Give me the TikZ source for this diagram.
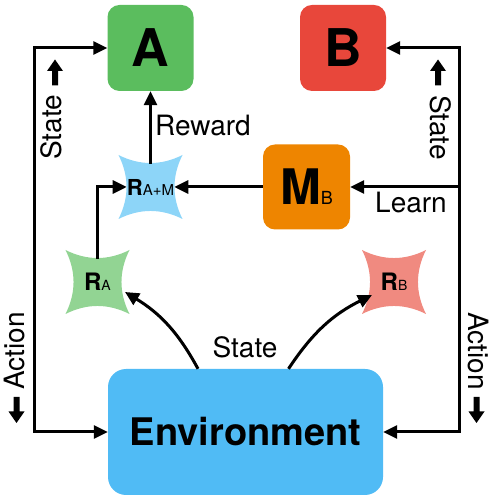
\documentclass[tikz,border=0pt]{standalone}
\usepackage{fontspec}
\setmainfont{TeX Gyre Heros}
\usetikzlibrary{arrows.meta,calc}
\definecolor{agreen}{HTML}{5BBD5E}
\definecolor{bred}{HTML}{E8473B}
\definecolor{morange}{HTML}{EE8500}
\definecolor{envblue}{HTML}{50BBF5}
\definecolor{ramblue}{HTML}{8DD5F8}
\definecolor{ragreen}{HTML}{92D493}
\definecolor{rbsalmon}{HTML}{F08A80}
\tikzset{
  rbox/.style={rounded corners=12pt, minimum width=86pt, minimum height=86pt, inner sep=0pt},
  conn/.style={line width=3pt, -{Triangle[length=14pt,width=13pt]}},
  conntwo/.style={line width=3pt, {Triangle[length=14pt,width=13pt]}-{Triangle[length=14pt,width=13pt]}},
  lbl/.style={font=\fontsize{28}{28}\selectfont, inner sep=0pt},
  starnode/.style={inner sep=0pt, minimum width=46pt, minimum height=46pt, font=\bfseries\fontsize{22}{22}\selectfont},
  starfill/.pic={\fill[#1] (-32,-32) .. controls (-10.7,-21.3) and (10.7,-21.3) .. (32,-32)
     .. controls (21.3,-10.7) and (21.3,10.7) .. (32,32)
     .. controls (10.7,21.3) and (-10.7,21.3) .. (-32,32)
     .. controls (-21.3,10.7) and (-21.3,-10.7) .. cycle;},
  barrow/.pic={\fill (-13,-3) -- (1.5,-3) -- (1.5,-8) -- (13,0) -- (1.5,8) -- (1.5,3) -- (-13,3) -- cycle;}
}
\begin{document}
\begin{tikzpicture}[x=1pt,y=1pt]
\useasboundingbox (0,0) rectangle (494,500);
% boxes
\node[rbox, fill=agreen, font=\bfseries\fontsize{52}{52}\selectfont] (A) at (150.5,452) {A};
\node[rbox, fill=bred, font=\bfseries\fontsize{52}{52}\selectfont] (B) at (343,452) {B};
\node[rbox, fill=morange, minimum width=87pt, minimum height=85pt, font=\bfseries\fontsize{49}{49}\selectfont] (MB) at (306.5,313) {M{\mdseries\fontsize{18}{18}\selectfont B}};
\node[rounded corners=18pt, fill=envblue, minimum width=275pt, minimum height=126pt, inner sep=0pt, font=\bfseries\fontsize{38}{38}\selectfont] (Env) at (245.5,68) {Environment};
% stars
\pic at (150.5,313) {starfill=ramblue};
\pic at (97.5,218) {starfill=ragreen};
\pic at (394,218) {starfill=rbsalmon};
\node[starnode] (RAM) at (150.5,313) {R{\mdseries\fontsize{15}{15}\selectfont A+M}};
\node[starnode, font=\bfseries\fontsize{24}{24}\selectfont] (RA) at (97.5,218) {R{\mdseries\fontsize{14}{14}\selectfont A}};
\node[starnode, font=\bfseries\fontsize{24}{24}\selectfont] (RB) at (394,218) {R{\mdseries\fontsize{14}{14}\selectfont B}};
% coordinates
\coordinate (lb) at (34,68);
\coordinate (rb) at (459,68);
\coordinate (rl) at (459,313);
% connectors
\draw[conntwo] (A.west) -| (lb) -- (Env.west);
\draw[conntwo] (B.east) -| (rb) -- (Env.east);
\draw[conn] (rl) -- (MB.east);
\draw[conn] (MB.west) -- (RAM.east);
\draw[conn] (RA.north) |- (RAM.west);
\draw[conn] (RAM.north) -- (RAM.north |- A.south);
\draw[conn] ($(Env.north)+(-47.5,0)$) to[bend right=15] ($(RA.center)+(27.5,-10)$);
\draw[conn] ($(Env.north)+(43,0)$) to[bend left=15] ($(RB.center)+(-22,-13)$);
% labels
\node[lbl, anchor=base west] (lreward) at (155,364.5) {Reward};
\node[lbl, anchor=base west] (llearn) at (375,287) {Learn};
\node[lbl] (lstate) at (245,152.5) {State};
\node[lbl, rotate=90] (lstatel) at (51,372.5) {State};
\node[lbl, rotate=-90] (lstater) at (441,372.5) {State};
\node[lbl, rotate=90] (lactl) at (15,149) {Action};
\node[lbl, rotate=-90] (lactr) at (478,149) {Action};
% block arrows
\pic[rotate=90] at (55,427.5) {barrow};
\pic[rotate=90] at (438,427.5) {barrow};
\pic[rotate=-90] at (16.5,90) {barrow};
\pic[rotate=-90] at (476.5,90) {barrow};
\end{tikzpicture}
\end{document}
